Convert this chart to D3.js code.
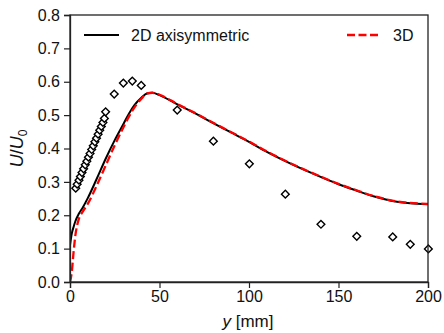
<!DOCTYPE html>
<html><head><meta charset="utf-8">
<script src="https://cdn.jsdelivr.net/npm/d3@7"></script>
<style>body{margin:0;background:#fff}svg{display:block}text{font-family:"Liberation Sans",Arial,sans-serif}</style>
</head><body><div id="c"></div>
<script>
const xTicks=[0,50,100,150,200];
const yTicks=[0,0.1,0.2,0.3,0.4,0.5,0.6,0.7,0.8];
const line2dX=[0,1,2,3,5,7,10,15,20,25,30,33,36,40,43,46,50,60,70,80,90,100,110,120,130,140,150,160,170,180,190,200];
const line2dY=[0.11,0.145,0.165,0.182,0.205,0.222,0.252,0.31,0.37,0.425,0.475,0.505,0.53,0.553,0.565,0.567,0.56,0.532,0.505,0.476,0.448,0.42,0.39,0.363,0.338,0.315,0.293,0.274,0.256,0.243,0.236,0.233];
const line3dX=[0,1,2,3,4,5,7,10,15,20,25,30,35,40,43,46,50,60,70,80,90,100,110,120,130,140,150,160,170,180,190,200];
const line3dY=[0,0.03,0.09,0.14,0.17,0.19,0.21,0.235,0.29,0.35,0.41,0.465,0.515,0.55,0.565,0.567,0.561,0.533,0.506,0.477,0.449,0.421,0.391,0.364,0.339,0.316,0.294,0.275,0.257,0.244,0.237,0.234];
const expX=[3.2,4.0,5.0,5.8,6.7,7.6,8.5,9.4,10.3,11.2,12.1,13.0,13.9,14.8,15.7,16.6,17.5,18.4,19.2,19.9,24.7,29.8,34.8,39.8,59.9,80.1,100.2,120.3,140.2,160.2,180.3,190.1,200.2];
const expY=[0.281,0.293,0.305,0.316,0.328,0.339,0.351,0.362,0.374,0.385,0.397,0.408,0.420,0.431,0.443,0.455,0.466,0.478,0.490,0.510,0.563,0.596,0.602,0.589,0.515,0.422,0.354,0.263,0.173,0.137,0.135,0.113,0.099];
const legendLabels=["2D axisymmetric","3D"];

const W=444,H=333,m={l:70,r:16,t:15,b:51};
const svg=d3.select("#c").append("svg").attr("width",W).attr("height",H);
const x=d3.scaleLinear().domain([0,200]).range([m.l,W-m.r]);
const y=d3.scaleLinear().domain([0,0.8]).range([H-m.b,m.t]);
svg.append("clipPath").attr("id","cp").append("rect")
  .attr("x",m.l).attr("y",m.t).attr("width",W-m.r-m.l).attr("height",H-m.b-m.t);
const g=svg.append("g").attr("clip-path","url(#cp)");
const ln=d3.line().x(d=>x(d[0])).y(d=>y(d[1])).curve(d3.curveMonotoneX);
g.append("path").datum(line2dX.map((v,i)=>[v,line2dY[i]])).attr("d",ln)
  .attr("fill","none").attr("stroke","#000").attr("stroke-width",2);
g.append("path").datum(line3dX.map((v,i)=>[v,line3dY[i]])).attr("d",ln)
  .attr("fill","none").attr("stroke","#ff0000").attr("stroke-width",2.3).attr("stroke-dasharray","8,3.5");
const sym=d3.symbol().type(d3.symbolSquare).size(30);
svg.append("g").selectAll("path").data(expX.map((v,i)=>[v,expY[i]])).join("path")
  .attr("d",sym).attr("transform",d=>`translate(${x(d[0])},${y(d[1])}) rotate(45)`)
  .attr("fill","#fff").attr("stroke","#000").attr("stroke-width",1.4);

// frame
svg.append("rect").attr("x",m.l).attr("y",m.t).attr("width",W-m.r-m.l).attr("height",H-m.b-m.t)
  .attr("fill","none").attr("stroke","#222").attr("stroke-width",1.3);
const xa=svg.append("g").attr("transform",`translate(0,${H-m.b})`)
  .call(d3.axisBottom(x).tickValues(xTicks).tickSize(6).tickPadding(3).tickFormat(d3.format("d")));
const ya=svg.append("g").attr("transform",`translate(${m.l},0)`)
  .call(d3.axisLeft(y).tickValues(yTicks).tickSize(6).tickPadding(4).tickFormat(d3.format(".1f")));
[xa,ya].forEach(a=>{a.select(".domain").attr("stroke","#222").attr("stroke-width",1.3);
  a.selectAll(".tick line").attr("stroke","#222").attr("stroke-width",1.2);
  a.selectAll("text").attr("font-size",16).attr("fill","#111").attr("font-family","Liberation Sans, Arial, sans-serif");});

// axis labels
const xl=svg.append("text").attr("x",248).attr("y",327).attr("text-anchor","middle").attr("font-size",17).attr("fill","#111");
xl.append("tspan").attr("font-style","italic").text("y");
xl.append("tspan").text(" [mm]");
const yl=svg.append("text").attr("transform",`translate(23,${(m.t+H-m.b)/2}) rotate(-90)`).attr("text-anchor","middle").attr("font-size",18).attr("fill","#111");
yl.append("tspan").attr("font-style","italic").text("U");
yl.append("tspan").text("/");
yl.append("tspan").attr("font-style","italic").text("U");
yl.append("tspan").attr("font-size",12).attr("dy",4).text("0");

// legend
const lg=svg.append("g");
lg.append("line").attr("x1",84).attr("x2",119).attr("y1",35).attr("y2",35).attr("stroke","#000").attr("stroke-width",2);
lg.append("text").attr("x",131).attr("y",41).attr("font-size",16).attr("fill","#111").text(legendLabels[0]);
lg.append("line").attr("x1",347).attr("x2",381).attr("y1",35).attr("y2",35).attr("stroke","#ff0000").attr("stroke-width",2.3).attr("stroke-dasharray","8,3.5");
lg.append("text").attr("x",393).attr("y",41).attr("font-size",16).attr("fill","#111").text(legendLabels[1]);
</script></body></html>
